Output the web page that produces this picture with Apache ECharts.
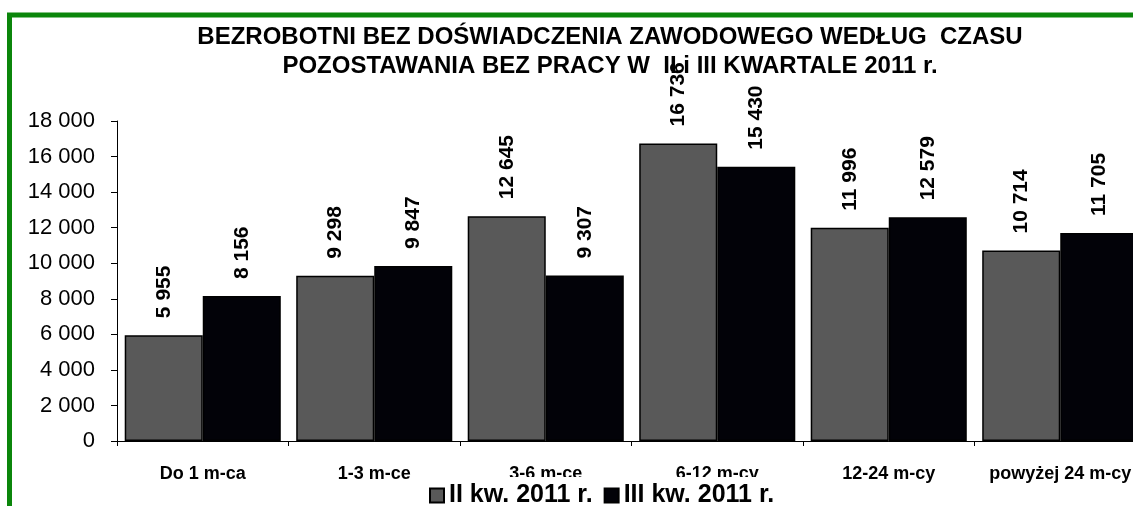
<!DOCTYPE html>
<html>
<head>
<meta charset="utf-8">
<script src="https://cdn.jsdelivr.net/npm/echarts@6/dist/echarts.min.js"></script>
<style>
  html, body { margin: 0; padding: 0; background: #fff; overflow: hidden; }
  #chart { width: 1220px; height: 506px; }
</style>
</head>
<body>
<div id="chart"></div>
<script>
// dane z wykresu
const categories = ['Do 1 m-ca', '1-3 m-ce', '3-6 m-ce', '6-12 m-cy', '12-24 m-cy', 'powyżej 24 m-cy'];
const kw2 = [5955, 9298, 12645, 16736, 11996, 10714];
const kw3 = [8156, 9847, 9307, 15430, 12579, 11705];
const seriesNames = ['II kw. 2011 r.', 'III kw. 2011 r.'];
const titleText = 'BEZROBOTNI BEZ DOŚWIADCZENIA ZAWODOWEGO WEDŁUG  CZASU\nPOZOSTAWANIA BEZ PRACY W  II i III KWARTALE 2011 r.';

const fmt = v => String(v).replace(/\B(?=(\d{3})+(?!\d))/g, ' ');
const FONT = 'Liberation Sans, Arial, sans-serif';

const chart = echarts.init(document.getElementById('chart'), null, { renderer: 'canvas' });

const valueLabel = {
  show: true,
  position: 'top',
  rotate: 90,
  align: 'left',
  verticalAlign: 'middle',
  distance: 17,
  fontFamily: FONT,
  fontWeight: 'bold',
  fontSize: 21,
  color: '#000',
  formatter: p => fmt(p.value)
};

const option = {
  animation: false,
  backgroundColor: '#fff',
  title: {
    text: titleText,
    left: 'center',
    top: 18,
    textStyle: {
      fontFamily: FONT,
      fontWeight: 'bold',
      fontSize: 24,
      lineHeight: 29,
      color: '#000'
    }
  },
  legend: {
    data: seriesNames,
    left: 424,
    top: 477,
    padding: [6, 5, 0, 5],
    backgroundColor: '#fff',
    itemWidth: 14,
    itemHeight: 14,
    itemGap: 11,
    icon: 'rect',
    textStyle: { fontFamily: FONT, fontWeight: 'bold', fontSize: 25, color: '#000' }
  },
  grid: { left: 117, right: 74, top: 121, bottom: 65 },
  xAxis: {
    type: 'category',
    data: categories,
    axisLine: { lineStyle: { color: '#000', width: 1 } },
    axisTick: { show: true, length: 5, lineStyle: { color: '#000' } },
    axisLabel: {
      margin: 24,
      fontFamily: FONT,
      fontWeight: 'bold',
      fontSize: 18,
      color: '#000',
      interval: 0
    }
  },
  yAxis: {
    type: 'value',
    min: 0,
    max: 18000,
    interval: 2000,
    splitLine: { show: false },
    axisLine: { show: true, lineStyle: { color: '#000', width: 1 } },
    axisTick: { show: true, length: 6, lineStyle: { color: '#000' } },
    axisLabel: {
      margin: 22,
      fontFamily: FONT,
      fontSize: 22,
      color: '#000',
      formatter: v => fmt(v)
    }
  },
  graphic: [{
    type: 'rect',
    shape: { x: 9.5, y: 15, width: 1400, height: 800 },
    style: { fill: 'none', stroke: '#0b860b', lineWidth: 5 },
    silent: true,
    z: 100
  }],
  series: [
    {
      name: seriesNames[0],
      type: 'bar',
      data: kw2,
      barGap: '0%',
      barCategoryGap: '9%',
      itemStyle: { color: '#595959', borderColor: '#000', borderWidth: 1.5 },
      label: valueLabel
    },
    {
      name: seriesNames[1],
      type: 'bar',
      data: kw3,
      barGap: '0%',
      barCategoryGap: '9%',
      itemStyle: { color: '#020208', borderColor: '#000', borderWidth: 1.5 },
      label: valueLabel
    }
  ]
};

chart.setOption(option);
</script>
</body>
</html>
